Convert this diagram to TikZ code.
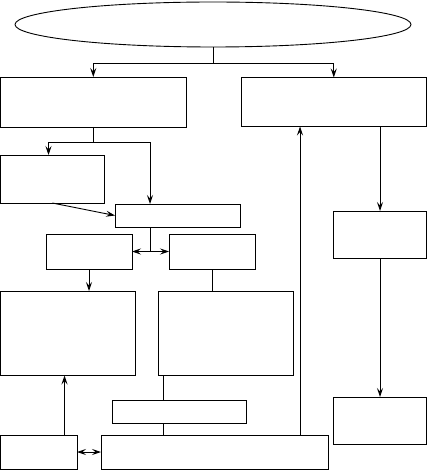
\documentclass[tikz,border=0pt]{standalone}
\usepackage{tikz}
\usetikzlibrary{arrows.meta,calc,shapes.geometric}
\tikzset{
  blk/.style={draw, line width=0.9pt, inner sep=0pt, outer sep=0pt},
  oval/.style={blk, ellipse},
  ln/.style={line width=0.9pt},
  arr/.style={-{Stealth[length=9pt,width=6pt,inset=3.5pt]}, line width=0.9pt},
  dblarr/.style={{Stealth[length=9pt,width=6pt,inset=3.5pt]}-{Stealth[length=9pt,width=6pt,inset=3.5pt]}, line width=0.9pt}
}
\begin{document}
\begin{tikzpicture}[x=1pt,y=-1pt]
  \useasboundingbox (0,0) rectangle (427,470);
  \node[oval, minimum width=396, minimum height=45] (top) at (213,24.5) {};
  \node[blk, minimum width=185.5, minimum height=50] (A) at (93.25,102) {};
  \node[blk, minimum width=185.5, minimum height=49] (B) at (333.75,102) {};
  \node[blk, minimum width=103.5, minimum height=48] (C) at (52.25,179) {};
  \node[blk, minimum width=125, minimum height=23] (D) at (177.5,215.5) {};
  \node[blk, minimum width=86, minimum height=35] (E) at (89,251.5) {};
  \node[blk, minimum width=86, minimum height=35] (F) at (212,251.5) {};
  \node[blk, minimum width=134.5, minimum height=84.5] (G) at (67.75,333.25) {};
  \node[blk, minimum width=135, minimum height=84.5] (H) at (225.5,333.25) {};
  \node[blk, minimum width=134, minimum height=23] (I) at (179,411.5) {};
  \node[blk, minimum width=227, minimum height=34] (J) at (214.5,452) {};
  \node[blk, minimum width=76.5, minimum height=34] (K) at (38.75,452) {};
  \node[blk, minimum width=93.5, minimum height=47] (L) at (379.75,234.5) {};
  \node[blk, minimum width=93.5, minimum height=47] (M) at (379.75,420.5) {};

  % top fork
  \draw[ln] (top.south) -- ++(0,16) coordinate (s0);
  \draw[arr] (s0) -| (A.north);
  \draw[arr] (s0) -| (B.north);
  % left branch
  \draw[ln] (A.south) -- ++(0,15) coordinate (s1);
  \draw[arr] (s1) -| ($(C.north west)+(48,0)$);
  \draw[arr] (s1) -| ($(D.north west)+(35,0)$);
  \draw[arr] (C.south) -- (D.west);
  \draw[dblarr] (E.east) -- (F.west);
  \draw[ln] ($(E.east)!.5!(F.west)$) coordinate (m1) -- (m1 |- D.south);
  \draw[arr] (E.south) -- (E.south |- G.north);
  \draw[ln] (F.south) -- (F.south |- H.north);
  \draw[ln] ($(H.south west)+(5,0)$) coordinate (h1) -- (h1 |- I.north);
  \draw[ln] (h1 |- I.south) -- (h1 |- J.north);
  \draw[arr] ($(K.north west)+(64,0)$) coordinate (k1) -- (k1 |- G.south);
  \draw[dblarr] (K.east) -- (J.west);
  \draw[arr] ($(J.north west)+(199,0)$) coordinate (j1) -- (j1 |- B.south);
  % right branch
  \draw[arr] ($(B.south west)+(139,0)$) coordinate (b1) -- (b1 |- L.north);
  \draw[arr] (b1 |- L.south) -- (b1 |- M.north);
\end{tikzpicture}
\end{document}
